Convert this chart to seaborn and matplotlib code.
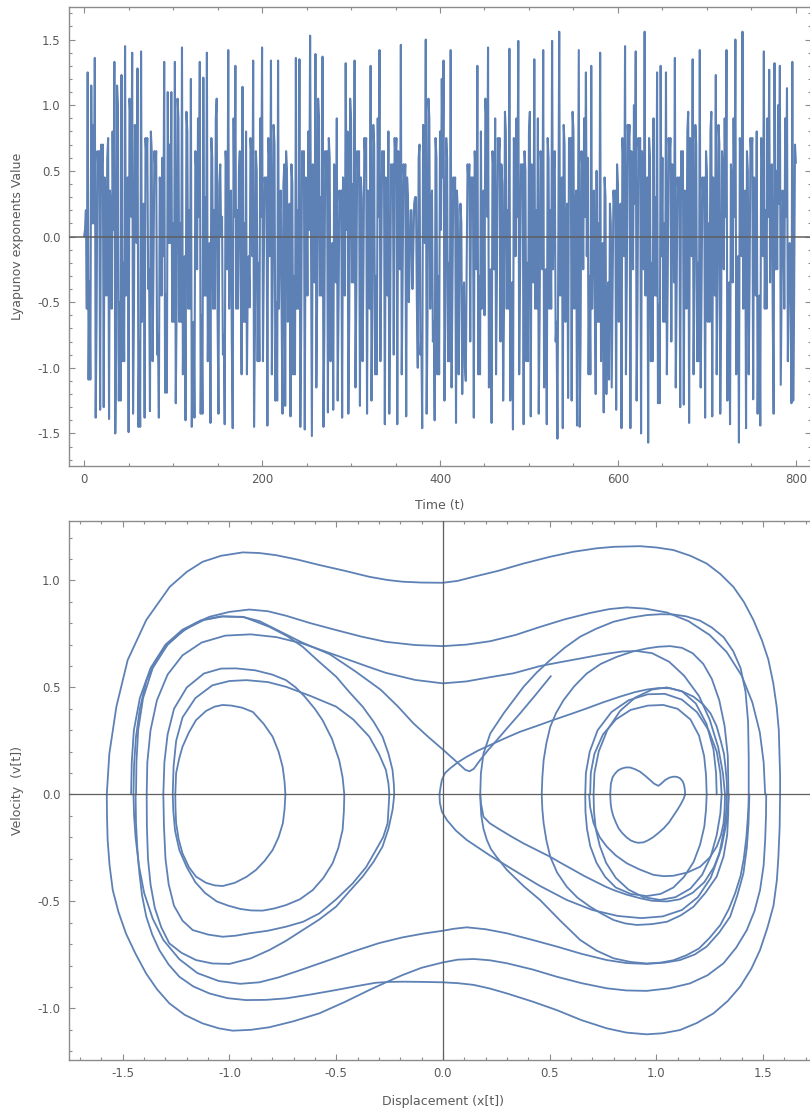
import numpy as np
import pandas as pd
import matplotlib
matplotlib.use("Agg")
import matplotlib.pyplot as plt
import seaborn as sns
from matplotlib.ticker import MultipleLocator, FormatStrFormatter

# ---------------- top panel data (one value per time unit) ----------------
time_t = np.arange(0, 801, 1)
lyapunov_value = [
    0.0, 0.05, 0.2, -0.55, 1.25, -1.09, -0.34, -1.09, 1.15, 0.1, 0.85, 0.1, 1.36, -1.38, -0.63, 0.65, 0.5, 0.65, -1.32, 0.7,
    0.55, 0.7, -1.3, 0.45, 0.3, -0.45, 0.6, 0.75, -1.39, 0.35, 0.2, -0.55, 0.8, 0.05, 1.33, -1.5, -0.9, 1.15, 1.0, -1.25,
    -0.5, -1.25, 1.23, -0.95, -0.2, -0.95, 1.45, -0.45, 0.3, 0.45, -1.49, 1.05, 0.9, 0.15, 1.4, -1.35, -0.6, 0.85, 0.7, -0.05,
    1.28, -1.45, -0.8, -1.45, 1.41, -0.65, 0.1, 0.25, -1.38, 0.75, 0.6, 0.75, -0.4, -0.25, -1.33, 0.8, 0.65, -0.95, -0.2, 0.65,
    0.5, 0.65, -0.9, -0.75, -1.38, 0.45, 0.3, -0.45, 0.6, -0.15, 1.33, -1.19, -0.44, -1.19, 1.1, -0.05, 0.7, -0.05, 1.1, -0.65,
    0.1, -0.65, 1.33, -1.27, -0.52, 1.05, 0.9, -0.65, 0.1, -0.65, 1.44, -1.05, -0.3, -0.15, -1.4, 0.95, 0.8, -0.55, 0.2, -0.55,
    1.2, -1.45, -0.8, -0.65, -1.38, 0.65, 0.5, -0.25, 0.9, 0.15, 1.33, -1.35, -0.6, -1.35, 1.21, -0.45, 0.3, -0.45, 1.4, -0.95,
    -0.2, -0.05, -1.42, 0.75, 0.6, -0.55, 0.2, -0.55, 0.9, 1.05, -0.6, -1.35, 0.4, 0.55, 0.0, 0.15, -0.9, -0.75, -1.43, 0.65,
    0.5, -0.25, 1.42, -0.55, 0.2, 0.35, -0.81, -1.46, 0.9, 0.15, 1.3, -0.55, 0.2, -0.55, 0.5, 0.65, -0.3, -1.05, 1.14, -0.65,
    0.1, -0.65, 0.8, -1.05, -0.3, -0.15, -0.54, 0.75, 0.6, -0.15, 1.34, -1.45, -0.73, 0.65, 0.5, -0.95, -0.2, -0.95, 0.9, 0.15,
    1.44, -0.95, -0.2, 0.45, 0.3, 0.45, -1.44, 0.75, 0.6, -0.15, 1.34, -1.05, -0.3, 0.85, 0.7, -1.25, -0.5, -1.25, 1.34, -0.55,
    0.2, 0.35, -0.6, -1.35, 0.4, 0.55, -1.29, 0.65, 0.5, -0.65, 0.1, 0.25, -1.37, 0.55, 0.4, -1.05, -0.3, -1.05, 1.36, -0.55,
    0.2, -0.55, 1.35, -1.45, -0.7, 0.65, 0.5, 0.65, -1.47, 0.45, 0.3, -0.45, 0.8, 0.05, 1.53, 0.0, -1.52, 0.55, 0.4, -0.35,
    1.39, -1.15, -0.4, 1.05, 0.9, -0.45, 0.3, -0.45, 1.37, -1.45, -0.73, 0.65, 0.5, 0.65, -1.34, 0.75, 0.6, -0.95, -0.2, -0.05,
    -1.32, 0.55, 0.4, -0.35, 0.9, -1.25, -0.5, 0.35, 0.2, 0.35, -1.38, 0.45, 0.3, -0.45, 1.32, 0.05, 0.8, -1.35, -0.6, 1.05,
    0.9, -0.35, 0.4, -0.35, 1.34, -1.15, -0.4, 0.65, 0.5, 0.65, -1.29, 0.45, 0.3, -0.95, -0.2, 0.75, 0.6, 0.75, -1.35, 0.35,
    0.2, -0.55, 1.3, -1.25, -0.5, 0.85, 0.7, -1.05, -0.3, -1.05, 0.9, 0.15, 1.42, -0.95, -0.2, 0.65, 0.5, 0.65, -1.43, 0.45,
    0.3, -0.45, 0.8, -1.35, -0.6, 0.55, 0.4, 0.55, -0.9, 0.75, 0.6, 0.75, -1.43, 0.65, 0.5, -0.25, 1.46, -1.05, -0.3, 0.55,
    0.4, 0.55, -1.37, 0.45, 0.3, -0.5, -0.2, 0.2, 0.2, -0.4, -0.1, 0.25, 0.3, 0.3, -0.5, -1.0, 0.6, 0.7, -0.9, -0.75,
    -1.46, 0.85, 0.7, -0.05, 1.5, -1.35, -0.6, 1.05, 0.9, -0.55, 0.2, 0.35, -0.8, -0.65, -1.4, 0.75, 0.6, -1.05, -0.3, -1.05,
    0.8, 0.05, 1.2, 0.45, 1.34, -1.25, -0.5, 0.75, 0.6, -0.95, -0.2, -0.95, 1.42, -1.15, -0.4, 0.45, 0.3, 0.45, -1.42, 0.35,
    0.2, -1.05, -0.3, 0.25, 0.1, -1.2, -0.5, -0.35, -1.0, -1.1, -0.2, 0.55, 0.4, 0.55, -0.8, 0.45, 0.3, 0.45, -1.38, 0.65,
    0.5, -0.25, 1.3, -1.05, -0.3, -1.05, 0.8, -0.55, 0.2, 0.35, -0.6, 1.05, 0.9, 0.15, 1.44, -1.15, -0.4, -0.25, -1.42, 0.65,
    0.5, -0.25, 0.9, -1.05, -0.3, 0.75, 0.6, 0.75, -0.8, 0.55, 0.4, -1.25, -0.5, 0.95, 0.8, -0.55, 0.2, -0.55, 1.43, -1.25,
    -0.5, -0.35, -1.47, 0.75, 0.6, -0.15, 0.9, 0.15, 1.49, -1.05, -0.3, 0.55, 0.4, 0.55, -1.43, 0.65, 0.5, -0.95, -0.2, -0.95,
    0.8, 0.95, -1.37, 0.55, 0.4, -0.35, 1.35, -0.55, 0.2, -0.55, 0.9, -1.35, -0.6, 0.65, 0.5, -0.25, 1.42, -1.15, -0.4, -0.25,
    -1.43, 0.75, 0.6, -0.55, 0.2, -0.55, 1.49, -0.25, 0.5, 0.65, -0.8, -0.65, -1.54, 0.0, 1.56, -0.45, 0.3, 0.45, -1.46, 0.85,
    0.7, -0.65, 0.1, 0.25, -1.23, 0.75, 0.6, 0.75, -1.25, 0.95, 0.8, -0.55, 0.2, 0.35, -1.44, 0.0, 1.42, -1.45, -0.8, 0.65,
    0.5, -0.25, 0.9, 0.15, 1.25, -0.15, 0.6, -1.05, -0.3, -1.05, 1.3, -0.55, 0.2, 0.35, -0.51, -1.2, 0.5, -0.65, 0.1, -0.65,
    1.4, -0.95, -0.2, -0.05, -1.34, 0.45, 0.3, -1.2, -0.5, -0.35, -1.09, 0.25, 0.1, -1.15, -0.4, 0.35, 0.2, 0.35, -1.32, 0.55,
    0.4, -0.65, 0.1, 0.25, -1.46, 0.75, 0.6, -0.15, 1.45, -1.05, -0.3, 0.85, 0.7, 0.85, -1.46, 0.65, 0.5, -0.25, 1.0, 0.25,
    1.41, -1.25, -0.5, 0.75, 0.6, 0.75, -1.5, 0.65, 0.5, -0.25, 1.56, -0.45, 0.3, 0.45, -1.57, 0.75, 0.6, -0.95, -0.2, -0.95,
    0.9, -0.45, 0.3, -0.45, 1.25, -1.27, -0.52, -1.27, 1.3, -0.15, 0.6, -0.65, 0.1, -0.65, 1.25, -1.05, -0.3, 0.75, 0.6, 0.75,
    -0.8, 0.55, 0.4, -0.35, 1.36, -1.15, -0.4, 0.45, 0.3, 0.45, -1.3, 0.65, 0.5, 0.65, -1.28, 0.35, 0.2, -0.55, 0.8, 0.95,
    -1.42, 0.75, 0.6, -0.15, 1.35, -1.05, -0.3, 0.85, 0.7, -0.95, -0.2, -0.95, 1.42, -1.15, -0.4, 0.45, 0.3, 0.45, -1.38, 0.65,
    0.5, -0.65, 0.1, -0.65, 0.8, 0.95, -1.37, 0.45, 0.3, -0.45, 1.23, -1.05, -0.3, 0.85, 0.7, -1.35, -0.6, 0.65, 0.5, -0.25,
    0.9, 0.15, 1.42, -1.25, -0.5, -0.35, -1.43, 0.55, 0.4, -0.35, 0.9, 0.15, 1.5, -1.05, -0.3, -0.15, -1.57, 0.75, 0.6, -0.15,
    1.56, -0.55, 0.2, 0.35, -1.46, 0.65, 0.5, -1.05, -0.3, 0.75, 0.6, 0.75, -1.24, 0.45, 0.3, -0.45, 0.8, -1.35, -0.6, -0.45,
    -1.44, 0.75, 0.6, -0.15, 1.41, -0.55, 0.2, -0.55, 0.9, 0.15, 1.27, -0.35, 0.4, 0.55, -0.6, -1.35, 1.32, -0.25, 0.5, -0.25,
    1.0, 0.25, 1.3, -1.13, -0.38, 0.35, 0.2, -0.55, 0.9, 0.15, 1.13, -0.95, -0.2, -0.05, -0.52, -1.27, 1.33, -1.25, -0.5, 0.7,
    0.56,
]

# ---------------- bottom panel data: orbit arcs (x, v) ----------------
arc_up_outer = [(-1.575, 0.0), (-1.563, 0.19), (-1.53, 0.41), (-1.477, 0.628), (-1.39, 0.815), (-1.28, 0.97),
                (-1.2, 1.04), (-1.126, 1.087), (-1.04, 1.115), (-0.938, 1.131), (-0.86, 1.128), (-0.782, 1.118),
                (-0.68, 1.097), (-0.579, 1.072), (-0.46, 1.045), (-0.345, 1.017), (-0.26, 1.002), (-0.189, 0.994),
                (-0.1, 0.99), (0.0, 0.989), (0.07, 0.998), (0.144, 1.017), (0.26, 1.045), (0.378, 1.079),
                (0.5, 1.11), (0.612, 1.134), (0.72, 1.15), (0.8, 1.157), (0.924, 1.16), (1.0, 1.154), (1.08, 1.142),
                (1.16, 1.115), (1.236, 1.079), (1.3, 1.03), (1.361, 0.97), (1.41, 0.9), (1.455, 0.815),
                (1.495, 0.72), (1.525, 0.63), (1.548, 0.52), (1.564, 0.41), (1.574, 0.3), (1.577, 0.19),
                (1.58, 0.09), (1.58, 0.0)]
arc_up_b2 = [(-1.45, 0.0), (-1.447, 0.14), (-1.438, 0.27), (-1.42, 0.4), (-1.39, 0.53), (-1.344, 0.628),
             (-1.29, 0.7), (-1.235, 0.752), (-1.16, 0.8), (-1.094, 0.83), (-1.0, 0.853), (-0.907, 0.864),
             (-0.82, 0.856), (-0.735, 0.835), (-0.62, 0.8), (-0.5, 0.768), (-0.38, 0.737), (-0.267, 0.713),
             (-0.13, 0.698), (0.0, 0.693), (0.11, 0.7), (0.222, 0.716), (0.34, 0.745), (0.456, 0.783),
             (0.57, 0.818), (0.69, 0.848), (0.78, 0.866), (0.862, 0.874), (0.95, 0.868), (1.05, 0.85),
             (1.15, 0.81), (1.25, 0.745), (1.33, 0.665), (1.4, 0.555), (1.45, 0.43), (1.485, 0.29),
             (1.503, 0.15), (1.51, 0.0)]
arc_up_b1 = [(-1.461, 0.0), (-1.458, 0.15), (-1.448, 0.3), (-1.42, 0.45), (-1.37, 0.59), (-1.3, 0.7),
             (-1.22, 0.77), (-1.13, 0.815), (-1.04, 0.832), (-0.94, 0.83), (-0.86, 0.81), (-0.78, 0.77),
             (-0.66, 0.71), (-0.53, 0.655), (-0.41, 0.575), (-0.29, 0.488), (-0.21, 0.41), (-0.138, 0.332),
             (-0.07, 0.27), (0.003, 0.207), (0.05, 0.165), (0.081, 0.137), (0.105, 0.115), (0.125, 0.108),
             (0.145, 0.12), (0.175, 0.161), (0.21, 0.205), (0.253, 0.254), (0.31, 0.32), (0.362, 0.379),
             (0.43, 0.46), (0.506, 0.553)]
arc_up_b3 = [(-1.438, 0.0), (-1.436, 0.15), (-1.428, 0.3), (-1.405, 0.45), (-1.36, 0.59), (-1.29, 0.7),
             (-1.21, 0.77), (-1.12, 0.815), (-1.03, 0.832), (-0.93, 0.828), (-0.813, 0.783), (-0.73, 0.74),
             (-0.657, 0.69), (-0.58, 0.62), (-0.5, 0.55), (-0.44, 0.48), (-0.376, 0.41), (-0.325, 0.34),
             (-0.283, 0.27), (-0.255, 0.19), (-0.236, 0.114), (-0.23, 0.05), (-0.228, 0.0)]
arc_up_c = [(-1.388, 0.0), (-1.385, 0.15), (-1.37, 0.3), (-1.34, 0.44), (-1.29, 0.56), (-1.22, 0.65),
            (-1.13, 0.71), (-1.02, 0.742), (-0.9, 0.748), (-0.78, 0.735), (-0.657, 0.705), (-0.5, 0.65),
            (-0.36, 0.6), (-0.267, 0.568), (-0.13, 0.535), (0.0, 0.519), (0.11, 0.528), (0.222, 0.548),
            (0.331, 0.566), (0.456, 0.6), (0.55, 0.618), (0.643, 0.635), (0.75, 0.655), (0.84, 0.668),
            (0.909, 0.67), (0.98, 0.66), (1.06, 0.62), (1.13, 0.555), (1.2, 0.46), (1.25, 0.35), (1.29, 0.22),
            (1.312, 0.1), (1.322, 0.0)]
arc_up_d = [(-1.31, 0.0), (-1.305, 0.15), (-1.29, 0.28), (-1.26, 0.4), (-1.2, 0.5), (-1.12, 0.565),
            (-1.04, 0.588), (-0.97, 0.589), (-0.88, 0.58), (-0.8, 0.56), (-0.735, 0.534), (-0.69, 0.5),
            (-0.65, 0.46), (-0.6, 0.4), (-0.564, 0.347), (-0.52, 0.26), (-0.486, 0.16), (-0.47, 0.08),
            (-0.462, 0.0)]
arc_up_e = [(-1.266, 0.0), (-1.262, 0.13), (-1.25, 0.25), (-1.22, 0.36), (-1.16, 0.45), (-1.08, 0.51),
            (-1.0, 0.53), (-0.92, 0.534), (-0.82, 0.525), (-0.735, 0.503), (-0.62, 0.46), (-0.5, 0.41),
            (-0.42, 0.35), (-0.345, 0.27), (-0.3, 0.19), (-0.267, 0.114), (-0.255, 0.05), (-0.251, 0.0)]
arc_up_f = [(-1.254, 0.0), (-1.25, 0.1), (-1.235, 0.17), (-1.22, 0.223), (-1.19, 0.29), (-1.157, 0.347),
            (-1.11, 0.39), (-1.07, 0.41), (-1.032, 0.418), (-0.99, 0.415), (-0.94, 0.405), (-0.89, 0.385),
            (-0.84, 0.33), (-0.798, 0.27), (-0.77, 0.2), (-0.751, 0.129), (-0.742, 0.06), (-0.738, 0.0)]
arc_up_k = [(0.175, 0.0), (0.178, 0.098), (0.19, 0.19), (0.222, 0.285), (0.284, 0.378), (0.378, 0.503),
            (0.44, 0.57), (0.503, 0.628), (0.57, 0.685), (0.643, 0.737), (0.72, 0.775), (0.8, 0.807),
            (0.88, 0.826), (0.955, 0.838), (1.02, 0.842), (1.08, 0.841), (1.14, 0.832), (1.205, 0.812),
            (1.26, 0.78), (1.315, 0.735), (1.36, 0.67), (1.395, 0.59), (1.418, 0.48), (1.43, 0.34),
            (1.433, 0.17), (1.433, 0.0)]
arc_up_l = [(0.463, 0.0), (0.466, 0.08), (0.472, 0.16), (0.485, 0.24), (0.503, 0.316), (0.53, 0.38),
            (0.565, 0.44), (0.615, 0.505), (0.674, 0.565), (0.74, 0.61), (0.815, 0.643), (0.89, 0.668),
            (0.955, 0.682), (1.01, 0.69), (1.065, 0.693), (1.12, 0.685), (1.17, 0.66), (1.22, 0.61),
            (1.26, 0.54), (1.295, 0.44), (1.32, 0.32), (1.335, 0.18), (1.338, 0.0)]
arc_up_nose = [(-0.016, 0.0), (-0.01, 0.04), (-0.005, 0.067), (0.01, 0.1), (0.034, 0.122), (0.07, 0.15),
               (0.112, 0.176), (0.165, 0.205), (0.222, 0.231), (0.29, 0.262), (0.362, 0.293), (0.44, 0.32),
               (0.518, 0.348), (0.6, 0.376), (0.674, 0.402), (0.75, 0.43), (0.83, 0.457), (0.9, 0.478),
               (0.955, 0.49), (1.01, 0.497), (1.064, 0.496), (1.12, 0.482), (1.174, 0.457), (1.22, 0.42),
               (1.254, 0.379), (1.282, 0.32), (1.301, 0.254), (1.317, 0.19), (1.324, 0.129), (1.33, 0.06),
               (1.332, 0.0)]
arc_up_m1 = [(0.667, 0.0), (0.67, 0.1), (0.688, 0.2), (0.725, 0.3), (0.79, 0.385), (0.87, 0.44), (0.96, 0.468),
             (1.04, 0.47), (1.12, 0.443), (1.19, 0.385), (1.245, 0.3), (1.283, 0.2), (1.3, 0.1), (1.306, 0.0)]
arc_up_m2 = [(0.69, 0.0), (0.693, 0.1), (0.71, 0.19), (0.75, 0.28), (0.81, 0.35), (0.88, 0.395), (0.96, 0.415),
             (1.033, 0.418), (1.1, 0.4), (1.16, 0.35), (1.2, 0.275), (1.224, 0.18), (1.233, 0.09), (1.236, 0.0)]
arc_up_m3 = [(0.706, 0.0), (0.71, 0.1), (0.73, 0.2), (0.77, 0.3), (0.83, 0.39), (0.9, 0.452), (0.98, 0.49),
             (1.05, 0.5), (1.12, 0.482), (1.185, 0.425), (1.235, 0.33), (1.268, 0.21), (1.28, 0.1), (1.283, 0.0)]
arc_up_heart = [(0.784, 0.0), (0.787, 0.05), (0.795, 0.08), (0.807, 0.098), (0.822, 0.113), (0.838, 0.121),
                (0.857, 0.126), (0.877, 0.126), (0.9, 0.118), (0.924, 0.106), (0.948, 0.087), (0.971, 0.067),
                (0.99, 0.05), (1.01, 0.04), (1.025, 0.052), (1.041, 0.067), (1.06, 0.078), (1.08, 0.083),
                (1.097, 0.082), (1.112, 0.075), (1.124, 0.06), (1.13, 0.044), (1.134, 0.02), (1.135, 0.0)]

arc_lo_outer = [(-1.575, 0.0), (-1.574, -0.1), (-1.571, -0.213), (-1.562, -0.33), (-1.547, -0.447),
                (-1.52, -0.55), (-1.485, -0.65), (-1.44, -0.745), (-1.391, -0.836), (-1.34, -0.91),
                (-1.282, -0.976), (-1.21, -1.03), (-1.126, -1.07), (-1.05, -1.093), (-0.985, -1.104),
                (-0.9, -1.1), (-0.813, -1.088), (-0.7, -1.06), (-0.579, -1.023), (-0.46, -0.97),
                (-0.345, -0.914), (-0.26, -0.875), (-0.189, -0.844), (-0.1, -0.81), (0.0, -0.785),
                (0.07, -0.772), (0.144, -0.769), (0.22, -0.775), (0.3, -0.789), (0.42, -0.818), (0.534, -0.852),
                (0.65, -0.882), (0.768, -0.906), (0.86, -0.916), (0.955, -0.918), (1.06, -0.906),
                (1.158, -0.883), (1.24, -0.845), (1.315, -0.789), (1.375, -0.715), (1.424, -0.634),
                (1.46, -0.545), (1.486, -0.447), (1.503, -0.33), (1.51, -0.213), (1.514, -0.1), (1.515, 0.0)]
arc_lo_b3 = [(-1.44, 0.0), (-1.438, -0.135), (-1.432, -0.25), (-1.422, -0.369), (-1.41, -0.47), (-1.39, -0.571),
             (-1.362, -0.655), (-1.329, -0.727), (-1.285, -0.795), (-1.235, -0.852), (-1.17, -0.897),
             (-1.094, -0.93), (-1.01, -0.952), (-0.923, -0.961), (-0.83, -0.96), (-0.735, -0.953),
             (-0.62, -0.935), (-0.501, -0.914), (-0.4, -0.895), (-0.314, -0.88), (-0.25, -0.876),
             (-0.189, -0.875), (-0.1, -0.876), (0.0, -0.878), (0.07, -0.882), (0.144, -0.89), (0.22, -0.907),
             (0.3, -0.93), (0.42, -0.968), (0.534, -1.008), (0.65, -1.055), (0.768, -1.093), (0.86, -1.113),
             (0.955, -1.121), (1.03, -1.116), (1.111, -1.101), (1.19, -1.068), (1.268, -1.023), (1.335, -0.965),
             (1.393, -0.898), (1.445, -0.815), (1.486, -0.727), (1.52, -0.625), (1.549, -0.52), (1.565, -0.4),
             (1.572, -0.291), (1.578, -0.15), (1.58, 0.0)]
arc_lo_b2 = [(-1.45, 0.0), (-1.447, -0.1), (-1.44, -0.2), (-1.425, -0.33), (-1.4, -0.46), (-1.36, -0.58),
             (-1.31, -0.68), (-1.235, -0.77), (-1.15, -0.835), (-1.05, -0.872), (-0.95, -0.885), (-0.86, -0.878),
             (-0.77, -0.855), (-0.68, -0.825), (-0.55, -0.78), (-0.423, -0.735), (-0.3, -0.695),
             (-0.189, -0.668), (-0.09, -0.65), (0.0, -0.637), (0.05, -0.628), (0.112, -0.621), (0.2, -0.63),
             (0.3, -0.649), (0.42, -0.68), (0.534, -0.711), (0.65, -0.745), (0.768, -0.774), (0.86, -0.788),
             (0.955, -0.792), (1.04, -0.786), (1.111, -0.774), (1.18, -0.748), (1.236, -0.711), (1.295, -0.645),
             (1.346, -0.571), (1.38, -0.47), (1.408, -0.369), (1.424, -0.25), (1.432, -0.135), (1.436, 0.0)]
arc_lo_b1 = [(-0.228, 0.0), (-0.232, -0.04), (-0.236, -0.073), (-0.255, -0.16), (-0.283, -0.244),
             (-0.325, -0.315), (-0.376, -0.384), (-0.44, -0.455), (-0.501, -0.525), (-0.58, -0.585),
             (-0.657, -0.634), (-0.735, -0.684), (-0.813, -0.727), (-0.9, -0.766), (-1.0, -0.792),
             (-1.08, -0.79), (-1.157, -0.774), (-1.225, -0.74), (-1.282, -0.696), (-1.32, -0.62),
             (-1.35, -0.53), (-1.37, -0.42), (-1.382, -0.3), (-1.387, -0.15), (-1.388, 0.0)]
arc_lo_c = [(-0.251, 0.0), (-0.255, -0.07), (-0.259, -0.135), (-0.28, -0.2), (-0.314, -0.26), (-0.36, -0.34),
            (-0.423, -0.416), (-0.5, -0.49), (-0.579, -0.556), (-0.655, -0.595), (-0.735, -0.618),
            (-0.82, -0.637), (-0.907, -0.649), (-0.97, -0.66), (-1.032, -0.665), (-1.1, -0.655),
            (-1.172, -0.634), (-1.22, -0.59), (-1.26, -0.52), (-1.285, -0.42), (-1.3, -0.3),
            (-1.307, -0.15), (-1.31, 0.0)]
arc_lo_d = [(-0.462, 0.0), (-0.464, -0.08), (-0.47, -0.166), (-0.49, -0.25), (-0.517, -0.322), (-0.56, -0.39),
            (-0.61, -0.447), (-0.67, -0.49), (-0.735, -0.517), (-0.79, -0.533), (-0.845, -0.543),
            (-0.9, -0.542), (-0.95, -0.535), (-1.005, -0.52), (-1.06, -0.5), (-1.115, -0.46), (-1.16, -0.41),
            (-1.2, -0.34), (-1.235, -0.26), (-1.255, -0.17), (-1.263, -0.08), (-1.266, 0.0)]
arc_lo_f = [(-0.738, 0.0), (-0.742, -0.07), (-0.75, -0.135), (-0.77, -0.2), (-0.798, -0.26), (-0.835, -0.31),
            (-0.876, -0.353), (-0.92, -0.385), (-0.975, -0.413), (-1.032, -0.428), (-1.07, -0.425),
            (-1.11, -0.413), (-1.157, -0.384), (-1.19, -0.34), (-1.22, -0.276), (-1.238, -0.21),
            (-1.25, -0.135), (-1.253, -0.065), (-1.254, 0.0)]
arc_lo_heart = [(0.784, 0.0), (0.786, -0.04), (0.79, -0.07), (0.798, -0.1), (0.81, -0.13), (0.823, -0.158),
                (0.84, -0.18), (0.86, -0.2), (0.88, -0.215), (0.9, -0.223), (0.916, -0.226), (0.94, -0.224),
                (0.96, -0.215), (0.985, -0.2), (1.01, -0.18), (1.035, -0.158), (1.06, -0.13), (1.08, -0.1),
                (1.1, -0.07), (1.115, -0.045), (1.128, -0.02), (1.135, 0.0)]
arc_lo_m1 = [(0.667, 0.0), (0.668, -0.08), (0.675, -0.16), (0.69, -0.24), (0.72, -0.32), (0.76, -0.385),
             (0.81, -0.435), (0.88, -0.465), (0.955, -0.475), (1.02, -0.465), (1.08, -0.435), (1.13, -0.385),
             (1.175, -0.315), (1.205, -0.235), (1.225, -0.15), (1.233, -0.07), (1.236, 0.0)]
arc_lo_m2 = [(0.685, 0.0), (0.69, -0.06), (0.706, -0.135), (0.735, -0.2), (0.768, -0.244), (0.81, -0.285),
             (0.862, -0.322), (0.92, -0.35), (0.987, -0.376), (1.035, -0.382), (1.08, -0.38), (1.145, -0.365),
             (1.205, -0.338), (1.25, -0.295), (1.283, -0.244), (1.303, -0.19), (1.315, -0.135), (1.32, -0.07),
             (1.322, 0.0)]
arc_lo_m3 = [(0.706, 0.0), (0.708, -0.08), (0.716, -0.16), (0.735, -0.24), (0.765, -0.32), (0.81, -0.39),
             (0.87, -0.445), (0.94, -0.48), (1.018, -0.493), (1.09, -0.48), (1.16, -0.44), (1.215, -0.375),
             (1.255, -0.29), (1.283, -0.19), (1.3, -0.09), (1.306, 0.0)]
arc_lo_l = [(0.463, 0.0), (0.466, -0.07), (0.472, -0.135), (0.485, -0.215), (0.503, -0.291), (0.535, -0.365),
            (0.58, -0.431), (0.63, -0.482), (0.69, -0.525), (0.745, -0.558), (0.8, -0.587), (0.855, -0.603),
            (0.909, -0.61), (0.98, -0.606), (1.05, -0.595), (1.115, -0.565), (1.174, -0.525), (1.23, -0.46),
            (1.283, -0.384), (1.315, -0.29), (1.332, -0.19), (1.337, -0.09), (1.338, 0.0)]
arc_lo_k1 = [(0.175, 0.0), (0.178, -0.04), (0.19, -0.104), (0.22, -0.135), (0.26, -0.16), (0.318, -0.195),
             (0.378, -0.229), (0.44, -0.26), (0.5, -0.29), (0.556, -0.322), (0.612, -0.353), (0.66, -0.38),
             (0.71, -0.405), (0.76, -0.43), (0.8, -0.447), (0.86, -0.468), (0.924, -0.485), (0.98, -0.497),
             (1.05, -0.5), (1.11, -0.49), (1.17, -0.46), (1.225, -0.41), (1.27, -0.34), (1.305, -0.25),
             (1.325, -0.15), (1.335, -0.07), (1.34, 0.0)]
arc_lo_k2 = [(0.175, 0.0), (0.177, -0.05), (0.18, -0.1), (0.19, -0.16), (0.206, -0.213), (0.225, -0.255),
             (0.25, -0.29), (0.3, -0.353), (0.38, -0.43), (0.456, -0.494), (0.55, -0.59), (0.643, -0.68),
             (0.72, -0.73), (0.8, -0.766), (0.88, -0.783), (0.955, -0.79), (1.02, -0.786), (1.08, -0.775),
             (1.14, -0.752), (1.2, -0.72), (1.25, -0.67), (1.3, -0.61), (1.34, -0.535), (1.37, -0.46),
             (1.395, -0.38), (1.41, -0.3), (1.422, -0.2), (1.428, -0.12), (1.432, -0.05), (1.433, 0.0)]
arc_lo_nose = [(-0.016, 0.0), (-0.014, -0.04), (-0.005, -0.08), (0.019, -0.12), (0.06, -0.168), (0.112, -0.213),
               (0.22, -0.285), (0.331, -0.353), (0.45, -0.425), (0.58, -0.493), (0.7, -0.54), (0.82, -0.568),
               (0.93, -0.578), (1.03, -0.57), (1.12, -0.54), (1.195, -0.48), (1.255, -0.39), (1.295, -0.28),
               (1.318, -0.16), (1.328, -0.07), (1.33, 0.0)]

phase_arcs = {
    "up_outer": arc_up_outer, "up_b2": arc_up_b2, "up_b1": arc_up_b1, "up_b3": arc_up_b3, "up_c": arc_up_c,
    "up_d": arc_up_d, "up_e": arc_up_e, "up_f": arc_up_f, "up_k": arc_up_k, "up_l": arc_up_l,
    "up_nose": arc_up_nose, "up_m1": arc_up_m1, "up_m2": arc_up_m2, "up_m3": arc_up_m3, "up_heart": arc_up_heart,
    "lo_outer": arc_lo_outer, "lo_b3": arc_lo_b3, "lo_b2": arc_lo_b2, "lo_b1": arc_lo_b1, "lo_c": arc_lo_c,
    "lo_d": arc_lo_d, "lo_f": arc_lo_f, "lo_heart": arc_lo_heart, "lo_m1": arc_lo_m1, "lo_m2": arc_lo_m2,
    "lo_m3": arc_lo_m3, "lo_l": arc_lo_l, "lo_k1": arc_lo_k1, "lo_k2": arc_lo_k2, "lo_nose": arc_lo_nose,
}

# ---------------- style ----------------
sns.set_style("white")
plt.rcParams["font.family"] = ["DejaVu Sans"]
plt.rcParams["axes.unicode_minus"] = False

BLUE = "#5e81b5"
FRAME = "#8c8c8c"
TEXT = "#5a5a5a"
AXISLINE = "#5f5f5f"

W, H = 810, 1110
fig = plt.figure(figsize=(W / 100, H / 100), dpi=100)
ax1 = fig.add_axes([69 / W, 1 - 466 / H, 742 / W, 459 / H])
ax2 = fig.add_axes([69 / W, 1 - 1060 / H, 747.8 / W, 539.5 / H])

# top panel
df_top = pd.DataFrame({"t": time_t, "value": lyapunov_value})
sns.lineplot(data=df_top, x="t", y="value", ax=ax1, color=BLUE, linewidth=1.5,
             estimator=None, sort=False, solid_joinstyle="round")
ax1.axhline(0, color=AXISLINE, lw=1.1, zorder=4)
ax1.set_xlim(-17, 817)
ax1.set_ylim(-1.748, 1.748)

# bottom panel
rows = []
for name, pts in phase_arcs.items():
    for i, (xx, vv) in enumerate(pts):
        rows.append((name, i, xx, vv))
df_phase = pd.DataFrame(rows, columns=["arc", "order", "x", "v"])
sns.lineplot(data=df_phase, x="x", y="v", units="arc", estimator=None, sort=False, ax=ax2,
             color=BLUE, linewidth=1.3, solid_joinstyle="round", solid_capstyle="round")
ax2.axhline(0, color=AXISLINE, lw=0.9, zorder=4)
ax2.axvline(0, color=AXISLINE, lw=0.9, zorder=4)
ax2.set_xlim(-1.752, 1.752)
ax2.set_ylim(-1.241, 1.28)


def style(ax, xmaj, xmin, ymaj, ymin, xfmt, yfmt):
    for s in ax.spines.values():
        s.set_visible(True)
        s.set_color(FRAME)
        s.set_linewidth(1.0)
    ax.grid(False)
    ax.xaxis.set_major_locator(MultipleLocator(xmaj))
    ax.xaxis.set_minor_locator(MultipleLocator(xmin))
    ax.yaxis.set_major_locator(MultipleLocator(ymaj))
    ax.yaxis.set_minor_locator(MultipleLocator(ymin))
    ax.xaxis.set_major_formatter(FormatStrFormatter(xfmt))
    ax.yaxis.set_major_formatter(FormatStrFormatter(yfmt))
    ax.tick_params(which="both", direction="in", bottom=True, left=True, top=True, right=True,
                   labelbottom=True, labelleft=True, labeltop=False, labelright=False,
                   color=FRAME, labelcolor=TEXT, labelsize=8.5, width=0.8)
    ax.tick_params(which="major", length=4.5)
    ax.tick_params(which="minor", length=2.4)
    ax.tick_params(axis="y", which="major", pad=6)
    ax.tick_params(axis="x", which="major", pad=5)


style(ax1, 200, 50, 0.5, 0.1, "%d", "%.1f")
style(ax2, 0.5, 0.1, 0.5, 0.1, "%.1f", "%.1f")

ax1.set_xlabel("Time (t)", fontsize=9, color=TEXT)
ax1.set_ylabel("Lyapunov exponents Value", fontsize=9, color=TEXT)
ax2.set_xlabel("Displacement (x[t])", fontsize=9, color=TEXT)
ax2.set_ylabel("Velocity  (v[t])", fontsize=9, color=TEXT)
for ax in (ax1, ax2):
    ax.xaxis.label.set_va("center")
    ax.yaxis.label.set_va("center")
    ax.yaxis.label.set_ha("center")
ax1.xaxis.set_label_coords(0.5, -(506 - 466) / 459)
ax1.yaxis.set_label_coords(-(69 - 18) / 742, 0.5)
ax2.xaxis.set_label_coords(0.5, -(1101 - 1060) / 539.5)
ax2.yaxis.set_label_coords(-(69 - 18) / 747.8, 0.5)

fig.savefig("out.png", dpi=100)
